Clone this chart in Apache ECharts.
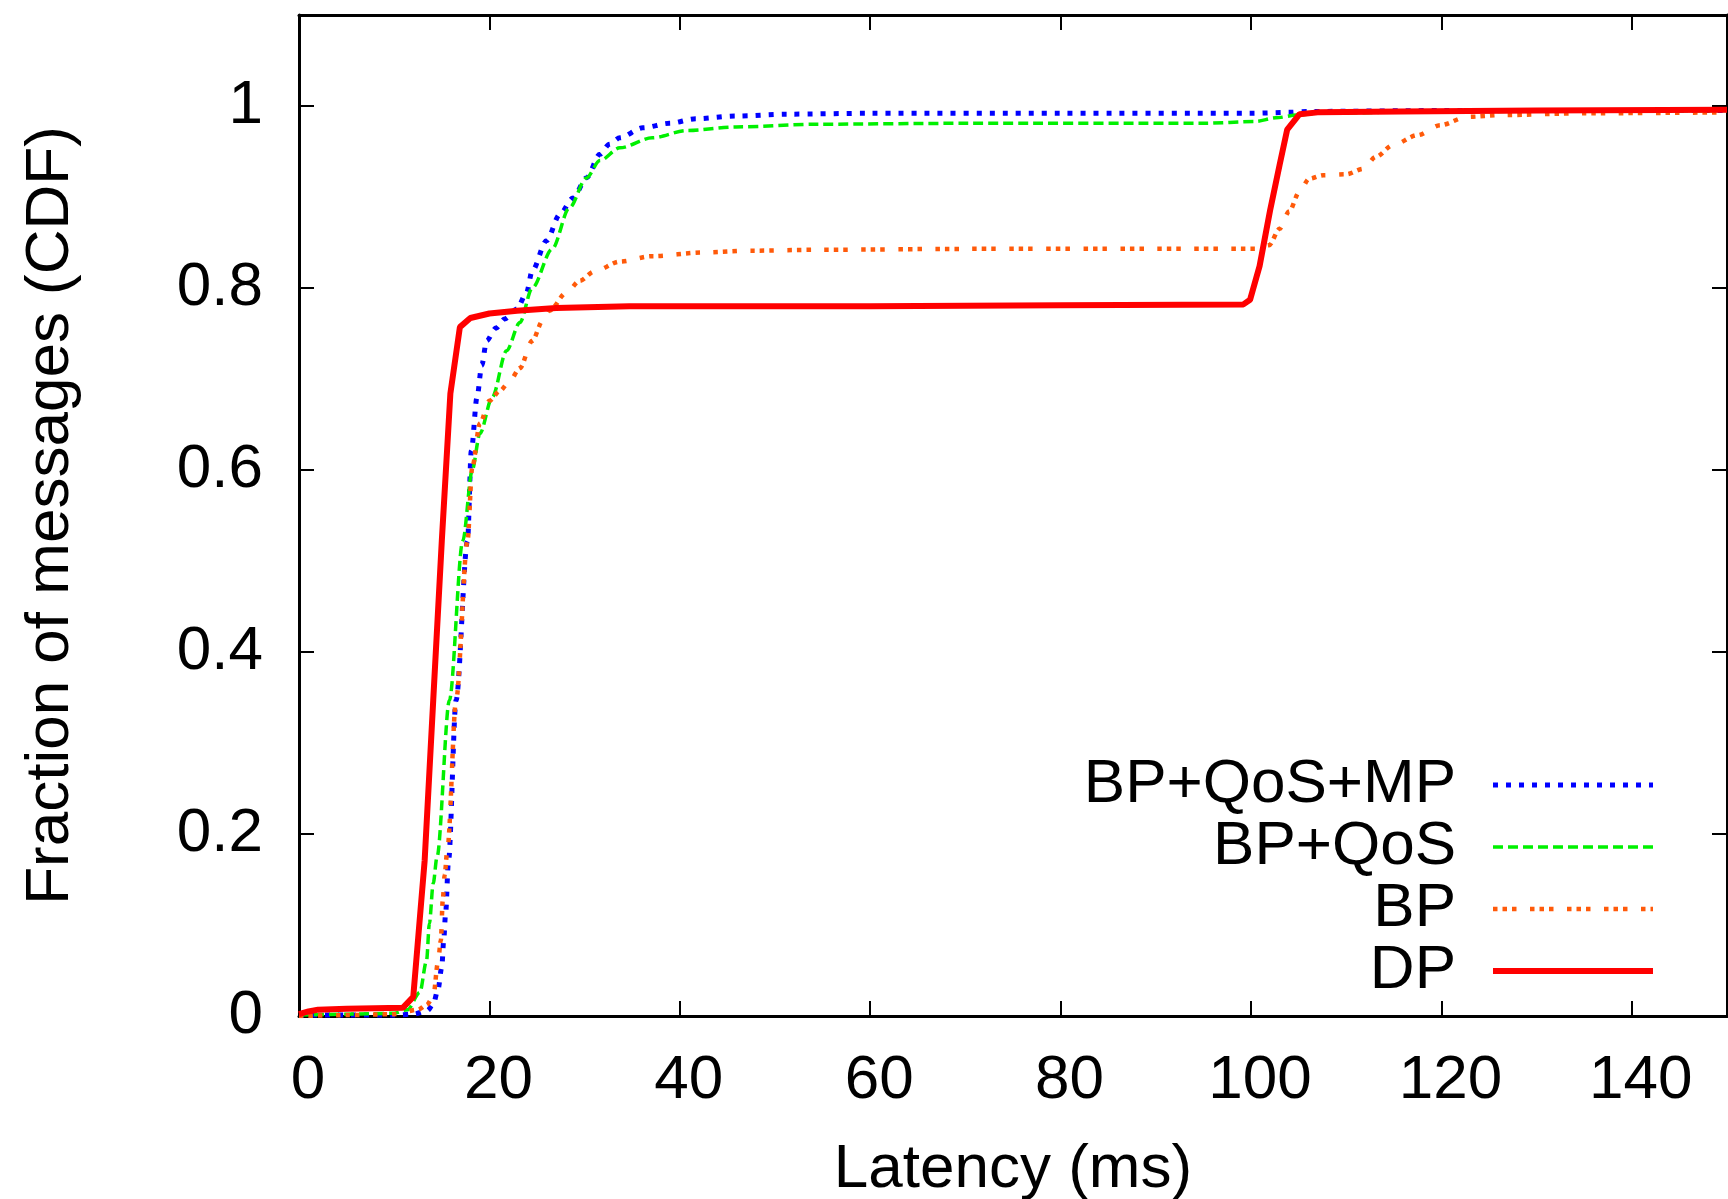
<!DOCTYPE html>
<html>
<head>
<meta charset="utf-8">
<script src="https://cdn.jsdelivr.net/npm/echarts@6/dist/echarts.min.js"></script>
<style>
html, body { margin: 0; padding: 0; background: #fff; }
#cdf { width: 1728px; height: 1199px; }
</style>
</head>
<body>
<div id="cdf"></div>
<script>
// latency (ms), fraction of messages
const bpQosMp = [[0,0.001],[5,0.001],[10,0.001],[12,0.002],[13.5,0.006],[14.1,0.013],[14.6,0.029],[15.0,0.054],[15.2,0.083],[15.4,0.113],[15.7,0.17],[16.5,0.347],[17.7,0.522],[18.1,0.621],[18.7,0.68],[19.2,0.715],[19.7,0.742],[20.7,0.756],[21.6,0.766],[22.9,0.777],[23.9,0.795],[24.5,0.819],[26.0,0.852],[27.4,0.881],[28.8,0.899],[30.2,0.921],[31.6,0.947],[32.6,0.958],[33.7,0.965],[36.1,0.976],[38.9,0.981],[41.7,0.986],[45.9,0.989],[51.2,0.991],[60,0.992],[80,0.992],[100,0.992],[104,0.993],[106,0.994],[120,0.995],[150,0.995]];
const bpQos = [[0,0.001],[5,0.002],[10,0.003],[11.4,0.007],[12.7,0.026],[13.4,0.061],[13.7,0.102],[14.1,0.146],[14.5,0.175],[15.8,0.347],[17.2,0.522],[18.2,0.6],[19.0,0.64],[20.3,0.68],[21.8,0.731],[23.2,0.762],[24.5,0.8],[26.6,0.843],[28.4,0.888],[30.2,0.921],[31.6,0.94],[33.7,0.954],[37.1,0.965],[40.7,0.973],[45.9,0.977],[54.6,0.98],[70,0.981],[95,0.981],[100.5,0.983],[102.6,0.987],[104.8,0.99],[107,0.992],[120,0.994],[150,0.995]];
const bp = [[0,0.0],[5,0.001],[10,0.002],[12.5,0.007],[13.4,0.012],[14.1,0.021],[14.6,0.059],[14.9,0.083],[15.1,0.127],[15.3,0.155],[15.6,0.185],[16.5,0.347],[17.7,0.522],[18.2,0.603],[19.0,0.651],[20.0,0.676],[21.1,0.687],[22.1,0.697],[23.2,0.712],[24.5,0.742],[25.6,0.764],[26.3,0.775],[28.1,0.795],[29.5,0.808],[31.0,0.818],[33.7,0.829],[37.1,0.835],[42.4,0.839],[47.6,0.841],[54.6,0.842],[70,0.843],[90,0.843],[100.5,0.843],[101.9,0.847],[103.0,0.865],[104.0,0.884],[105.1,0.906],[106.1,0.92],[107.6,0.924],[110.0,0.925],[111.8,0.931],[113.1,0.944],[114.9,0.957],[117.5,0.968],[119.9,0.979],[122.7,0.988],[126.3,0.99],[135,0.992],[150,0.993]];
const dp = [[0,0.002],[1,0.005],[2,0.007],[5,0.008],[10.9,0.009],[12.0,0.021],[13.2,0.171],[14.1,0.347],[15.0,0.522],[15.9,0.684],[16.9,0.757],[18.0,0.767],[20,0.772],[22.9,0.775],[27,0.778],[34.7,0.78],[60,0.78],[80,0.781],[99.2,0.782],[99.9,0.787],[100.9,0.824],[102,0.885],[103.0,0.935],[103.8,0.974],[105.1,0.991],[107,0.993],[115.7,0.994],[130,0.995],[150,0.996]];

const seriesNames = ['BP+QoS+MP', 'BP+QoS', 'BP', 'DP'];
const xTicks = [0, 20, 40, 60, 80, 100, 120, 140];
const yTicks = [0, 0.2, 0.4, 0.6, 0.8, 1];

const font = '"Liberation Sans", Arial, Helvetica, sans-serif';
const frame = { show: true, onZero: false, lineStyle: { color: '#000', width: 3 } };
const ticks = { show: true, inside: true, length: 15, lineStyle: { color: '#000', width: 2 } };

const chart = echarts.init(document.getElementById('cdf'));
const option = {
    animation: false,
    backgroundColor: '#fff',
    grid: { left: 299, right: 1, top: 15, bottom: 183, outerBoundsMode: 'none', containLabel: false },
    legend: {
        orient: 'vertical',
        right: 72,
        top: 754,
        align: 'right',
        padding: 0,
        itemGap: 0,
        itemWidth: 160,
        itemHeight: 14,
        selectedMode: false,
        data: seriesNames,
        textStyle: { fontSize: 62, color: '#000', fontFamily: font, lineHeight: 61, padding: [0, 32, 0, 0] },
        lineStyle: { width: 'inherit' },
        itemStyle: { opacity: 0 }
    },
    xAxis: [{
        type: 'value', min: 0, max: 150, interval: 20, position: 'bottom',
        name: 'Latency (ms)', nameLocation: 'middle', nameGap: 123,
        nameTextStyle: { fontSize: 62, color: '#000', fontFamily: font },
        axisLine: frame, axisTick: ticks, splitLine: { show: false },
        axisLabel: {
            fontSize: 62, color: '#000', fontFamily: font, margin: 34, showMaxLabel: false,
            padding: [0, 0, 0, 18],
            formatter: v => xTicks.indexOf(v) >= 0 ? String(v) : ''
        }
    }, {
        type: 'value', min: 0, max: 150, interval: 20, position: 'top',
        axisLine: frame, axisTick: ticks, splitLine: { show: false }, axisLabel: { show: false }
    }],
    yAxis: [{
        type: 'value', min: 0, max: 1.1, interval: 0.2, position: 'left',
        name: 'Fraction of messages (CDF)', nameLocation: 'middle', nameGap: 217,
        nameTextStyle: { fontSize: 62, color: '#000', fontFamily: font },
        axisLine: frame, axisTick: ticks, splitLine: { show: false },
        axisLabel: {
            fontSize: 62, color: '#000', fontFamily: font, margin: 36, showMaxLabel: false,
            formatter: v => {
                const r = Math.round(v * 10) / 10;
                return yTicks.indexOf(r) >= 0 ? String(r) : '';
            }
        }
    }, {
        type: 'value', min: 0, max: 1.1, interval: 0.2, position: 'right',
        axisLine: frame, axisTick: ticks, splitLine: { show: false }, axisLabel: { show: false }
    }],
    series: [{
        name: seriesNames[0], type: 'line', data: bpQosMp, symbol: 'none',
        smooth: 0.3, smoothMonotone: 'x',
        itemStyle: { color: '#0000ff' },
        lineStyle: { color: '#0000ff', width: 5, type: [5, 8] }
    }, {
        name: seriesNames[1], type: 'line', data: bpQos, symbol: 'none',
        smooth: 0.3, smoothMonotone: 'x',
        itemStyle: { color: '#00f000' },
        lineStyle: { color: '#00f000', width: 3.5, type: [10, 5] }
    }, {
        name: seriesNames[2], type: 'line', data: bp, symbol: 'none',
        smooth: 0.3, smoothMonotone: 'x',
        itemStyle: { color: '#ff5a0a' },
        lineStyle: { color: '#ff5a0a', width: 4.5, type: [4.5, 5, 4.5, 5, 4.5, 13.5] }
    }, {
        name: seriesNames[3], type: 'line', data: dp, symbol: 'none',
        itemStyle: { color: '#ff0000' },
        lineStyle: { color: '#ff0000', width: 6 }
    }]
};
chart.setOption(option);
window.addEventListener('resize', function () { chart.resize(); });
</script>
</body>
</html>
